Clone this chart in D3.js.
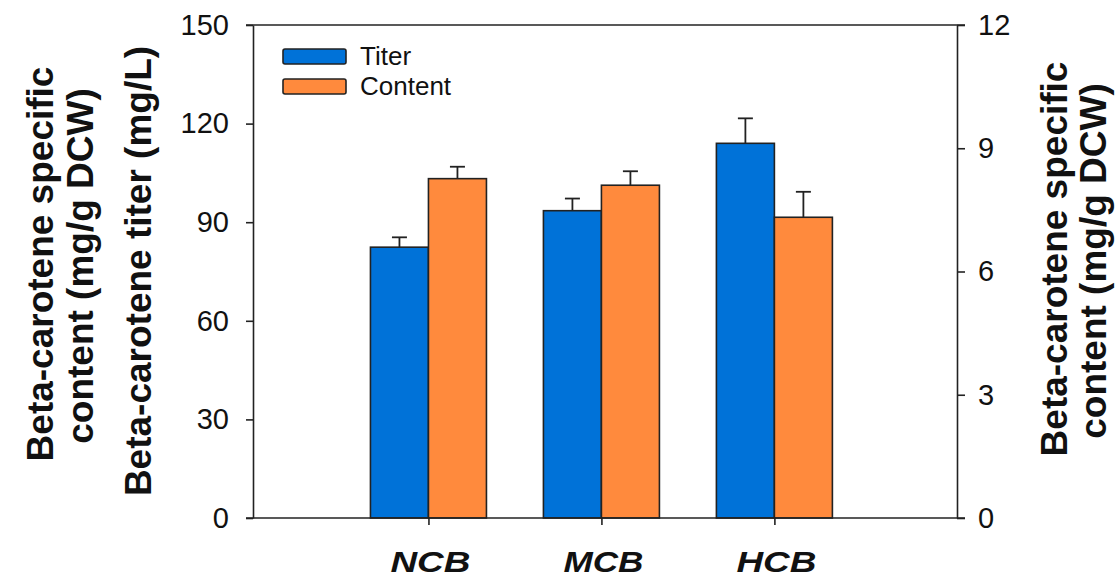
<!DOCTYPE html>
<html>
<head>
<meta charset="utf-8">
<script src="https://cdn.jsdelivr.net/npm/d3@7"></script>
<style>
  body { margin: 0; background: #fff; }
  svg { display: block; font-family: "Liberation Sans", Arial, sans-serif; }
</style>
</head>
<body>
<script>
const w = 1117;
const h = 581;

// data
const categories = ["NCB", "MCB", "HCB"];
const titer = [82.4, 93.5, 114.0];          // mg/L, left axis
const titerErr = [3.0, 3.7, 7.6];
const content = [8.26, 8.10, 7.32];         // mg/g DCW, right axis
const contentErr = [0.29, 0.34, 0.62];
const leftTicks = [0, 30, 60, 90, 120, 150];
const rightTicks = [0, 3, 6, 9, 12];
const seriesNames = ["Titer", "Content"];

const blue = "#0072d8";
const orange = "#ff8a3d";
const ink = "#222";

const plotLeft = 253, plotRight = 957, plotTop = 25, plotBottom = 518;
const barW = 58;

const svg = d3.select("body")
    .append("svg")
    .attr("width", w)
    .attr("height", h)
    ;

const xScale = d3.scalePoint()
    .domain(categories)
    .range([plotLeft, plotRight])
    .padding(1.035)
    .align(0.49)
    ;

const yLeft = d3.scaleLinear()
    .domain([0, 150])
    .range([plotBottom, plotTop])
    ;

const yRight = d3.scaleLinear()
    .domain([0, 12])
    .range([plotBottom, plotTop])
    ;

// bars
const rows = categories.map((c, i) => ({
    cat: c, titer: titer[i], titerErr: titerErr[i], content: content[i], contentErr: contentErr[i]
}));

const g = svg.append("g");

// error bars first (only the upper half shows)
function errBar(sel, cx, yv, ye) {
    sel.append("line")
        .attr("x1", cx).attr("x2", cx)
        .attr("y1", yv).attr("y2", ye)
        .attr("stroke", ink).attr("stroke-width", 1.8);
    sel.append("line")
        .attr("x1", cx - 7.5).attr("x2", cx + 7.5)
        .attr("y1", ye).attr("y2", ye)
        .attr("stroke", ink).attr("stroke-width", 1.8);
}

rows.forEach(d => {
    const cx = xScale(d.cat);
    errBar(g, cx - barW / 2, yLeft(d.titer), yLeft(d.titer + d.titerErr));
    errBar(g, cx + barW / 2, yRight(d.content), yRight(d.content + d.contentErr));
});

g.selectAll("rect.titer")
    .data(rows)
    .enter()
    .append("rect")
    .attr("class", "titer")
    .attr("x", d => xScale(d.cat) - barW)
    .attr("y", d => yLeft(d.titer))
    .attr("width", barW)
    .attr("height", d => plotBottom - yLeft(d.titer))
    .attr("fill", blue)
    .attr("stroke", ink)
    .attr("stroke-width", 1.6)
    ;

g.selectAll("rect.content")
    .data(rows)
    .enter()
    .append("rect")
    .attr("class", "content")
    .attr("x", d => xScale(d.cat))
    .attr("y", d => yRight(d.content))
    .attr("width", barW)
    .attr("height", d => plotBottom - yRight(d.content))
    .attr("fill", orange)
    .attr("stroke", ink)
    .attr("stroke-width", 1.6)
    ;

// axes
const leftAxis = d3.axisLeft(yLeft).tickValues(leftTicks).tickSize(7).tickPadding(17);
const rightAxis = d3.axisRight(yRight).tickValues(rightTicks).tickSize(8).tickPadding(13);
const bottomAxis = d3.axisBottom(xScale).tickSize(7).tickFormat("");

function styleAxis(a) {
    a.select(".domain").attr("stroke", ink).attr("stroke-width", 1.6);
    a.selectAll(".tick line").attr("stroke", ink).attr("stroke-width", 1.6);
    a.selectAll(".tick text")
        .attr("fill", "#111")
        .style("font-size", "29px")
        .style("font-family", "'Liberation Sans', Arial, sans-serif");
}

const la = svg.append("g")
    .attr("transform", `translate(${plotLeft},0)`)
    .call(leftAxis.tickSizeOuter(0));
styleAxis(la);

const ra = svg.append("g")
    .attr("transform", `translate(${plotRight},0)`)
    .call(rightAxis.tickSizeOuter(0));
styleAxis(ra);

const ba = svg.append("g")
    .attr("transform", `translate(0,${plotBottom})`)
    .call(bottomAxis.tickSizeOuter(0));
styleAxis(ba);
ba.select(".domain").remove();

// frame lines across top and bottom
[plotTop, plotBottom].forEach(y => {
    svg.append("line")
        .attr("x1", plotLeft - 7).attr("x2", plotRight + 8)
        .attr("y1", y).attr("y2", y)
        .attr("stroke", ink).attr("stroke-width", 1.6);
});

// category labels (wide bold italic)
svg.selectAll("text.cat")
    .data(categories)
    .enter()
    .append("text")
    .attr("class", "cat")
    .attr("x", d => xScale(d) + 2)
    .attr("y", 572)
    .attr("text-anchor", "middle")
    .attr("textLength", 80)
    .attr("lengthAdjust", "spacingAndGlyphs")
    .style("font-size", "30px")
    .style("font-weight", "bold")
    .style("font-style", "italic")
    .attr("fill", "#111")
    .text(d => d)
    ;

// axis titles
const leftTitles = [
    { text: "Beta-carotene specific", x: 53, y: 264 },
    { text: "content (mg/g DCW)", x: 93, y: 266 },
    { text: "Beta-carotene titer (mg/L)", x: 151, y: 271 },
];
const rightTitles = [
    { text: "Beta-carotene specific", x: 1067, y: 259 },
    { text: "content (mg/g DCW)", x: 1106, y: 261 },
];

svg.selectAll("text.ytitle")
    .data(leftTitles.concat(rightTitles))
    .enter()
    .append("text")
    .attr("class", "ytitle")
    .attr("transform", d => `translate(${d.x},${d.y}) rotate(-90)`)
    .attr("text-anchor", "middle")
    .style("font-size", "37px")
    .style("font-weight", "bold")
    .attr("fill", "#111")
    .text(d => d.text)
    ;

// legend
const legend = svg.append("g").attr("transform", "translate(283,49)");
const legendColors = [blue, orange];
seriesNames.forEach((name, i) => {
    legend.append("rect")
        .attr("x", 0).attr("y", i * 30)
        .attr("width", 63).attr("height", 15)
        .attr("rx", 2)
        .attr("fill", legendColors[i])
        .attr("stroke", ink).attr("stroke-width", 1.6);
    legend.append("text")
        .attr("x", 77).attr("y", i * 30 + 16)
        .style("font-size", "26px")
        .attr("fill", "#111")
        .text(name);
});
</script>
</body>
</html>
